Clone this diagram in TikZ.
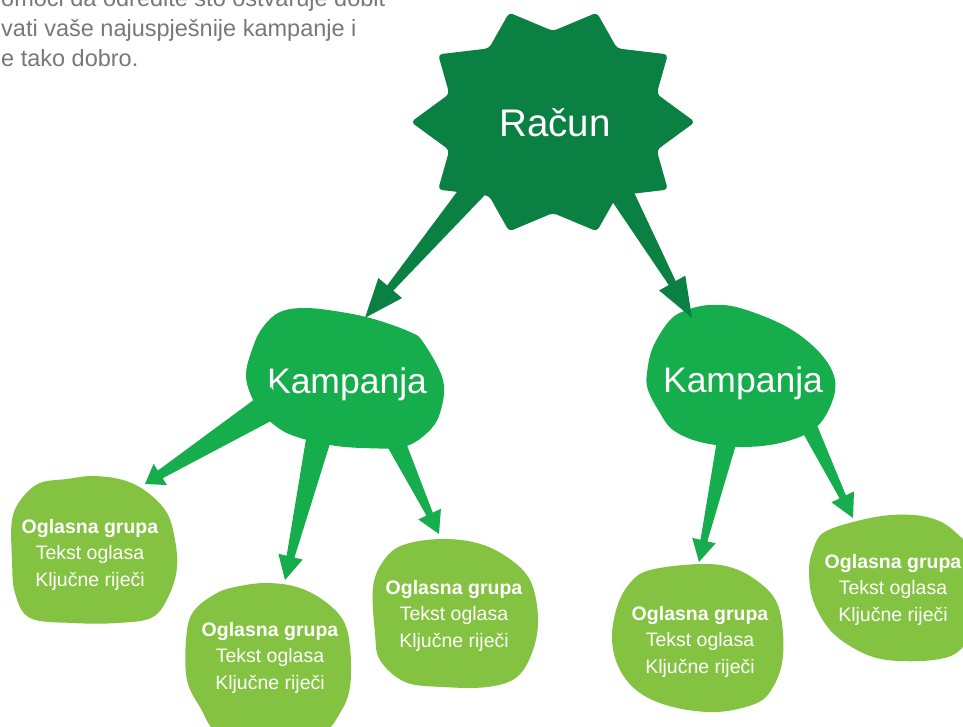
\documentclass[tikz,border=0pt]{standalone}
\usepackage{fontspec}
\setmainfont{Liberation Sans}
\usetikzlibrary{calc}
\definecolor{stargreen}{HTML}{0B8043}
\definecolor{campgreen}{HTML}{16AD4C}
\definecolor{adgreen}{HTML}{84C341}
\definecolor{notegray}{HTML}{77787B}
% #1 colour, #2 start, #3 tip, #4 base half-width, #5 neck half-width, #6 head half-width, #7 head length
\newcommand\fatarrow[7]{%
  \path (#3) coordinate (fa-t) (#2) coordinate (fa-s);
  \path ($(fa-t)!#7!(fa-s)$) coordinate (fa-h);
  \fill[#1] ($(fa-s)!#4!90:(fa-t)$) -- ($(fa-h)!#5!-90:(fa-s)$) -- ($(fa-h)!#6!-90:(fa-s)$)
    -- (fa-t) -- ($(fa-h)!#6!90:(fa-s)$) -- ($(fa-h)!#5!90:(fa-s)$)
    -- ($(fa-s)!#4!-90:(fa-t)$) -- cycle;}
\newcommand\adgroup[3]{%
  \node[adhead] (#1) at (#2,#3) {Oglasna grupa};
  \node[adline] (#1-t) at (#2,#3+26.5) {Tekst oglasa};
  \node[adline] (#1-k) at (#2,#3+53) {Ključne riječi};}
\tikzset{
  bigtext/.style={text=white, inner sep=0pt, anchor=base, font=\fontsize{38.5}{46}\selectfont},
  camptext/.style={text=white, inner sep=0pt, anchor=base, font=\fontsize{35.5}{42}\selectfont},
  adhead/.style={text=white, inner sep=0pt, anchor=base, font=\fontsize{19.5}{23}\selectfont\bfseries},
  adline/.style={text=white, inner sep=0pt, anchor=base, font=\fontsize{19.5}{23}\selectfont},
  note/.style={text=notegray, inner sep=0pt, anchor=base west, font=\fontsize{23.5}{28}\selectfont},
  blob/.style={smooth cycle, tension=0.6},
}
\begin{document}
\begin{tikzpicture}[x=1pt,y=-1pt]
\useasboundingbox (0,0) rectangle (963,726);
\clip (0,0) rectangle (963,726);
\fill[white] (0,0) rectangle (963,726);

% star
\fill[stargreen, rounded corners=4pt, shift={(553,122)}] (-18:109pt and 91pt)
  \foreach \i in {0,...,8} { -- (\i*36:142pt and 115pt) -- (\i*36+18:109pt and 91pt) }
  -- (324:142pt and 115pt) -- cycle;

% campaign blobs
\fill[campgreen] plot[blob] coordinates {(280,312) (307,308) (347,313) (377,320) (410,332) (423,342)
  (443,380) (440,413) (427,433) (403,447) (363,448) (330,445) (297,437) (277,427) (257,407)
  (246,377) (253,347) (263,327)};
\fill[campgreen] plot[blob] coordinates {(710,305) (740,308) (787,327) (820,353) (835,380) (830,407)
  (813,430) (780,443) (740,447) (700,442) (673,430) (660,413) (648,390) (647,373) (653,347)
  (670,320) (687,310)};

% ad group blobs
\fill[adgreen] plot[blob] coordinates {(40,483) (67,479) (93,476) (123,480) (147,492) (167,513)
  (175,540) (177,567) (170,593) (153,617) (117,623) (73,623) (30,618) (15,593) (12,560)
  (12,520) (22,498)};
\fill[adgreen] plot[blob] coordinates {(267,583) (297,587) (323,600) (343,620) (350,647) (350,687)
  (340,713) (320,735) (270,745) (220,735) (200,707) (187,680) (186,640) (193,612) (217,593)
  (240,586)};
\fill[adgreen] plot[blob] coordinates {(403,545) (440,539) (477,543) (507,557) (530,580) (538,617)
  (533,650) (517,677) (487,687) (443,687) (405,682) (380,660) (375,633) (373,587) (384,560)};
\fill[adgreen] plot[blob] coordinates {(650,570) (700,564) (733,568) (760,583) (777,603) (783,633)
  (782,663) (773,687) (757,703) (717,712) (673,707) (640,693) (620,670) (612,640) (617,607)
  (630,583)};
\fill[adgreen] plot[blob] coordinates {(823,533) (853,522) (891,515) (927,517) (953,530) (975,560)
  (975,620) (960,650) (933,660) (887,660) (857,650) (830,630) (813,600) (809,570) (813,550)};

% texts
\node[note] (n1) at (1,6) {omoći da odredite što ostvaruje dobit};
\node[note] (n2) at (1,36) {vati vaše najuspješnije kampanje i};
\node[note] (n3) at (1,66) {e tako dobro.};
\node[bigtext] (racun) at (555,136) {Račun};
\node[camptext] (k1) at (347,393) {Kampanja};
\node[camptext] (k2) at (743,392) {Kampanja};
\adgroup{a1}{90}{533}
\adgroup{a2}{270}{636}
\adgroup{a3}{454}{594}
\adgroup{a4}{700}{620}
\adgroup{a5}{893}{568}

% connectors
\fatarrow{stargreen}{$(racun)+(-65,48)$}{$(k1)+(18,-66)$}{13.5pt}{4pt}{15.5pt}{39pt}
\fatarrow{stargreen}{$(racun)+(57,55)$}{$(k2)+(-51,-65)$}{13.5pt}{4pt}{15pt}{40pt}
\fatarrow{campgreen}{$(k1)+(-68,16)$}{$(a1)+(55,-44)$}{15pt}{4.5pt}{12.5pt}{18pt}
\fatarrow{campgreen}{$(k1)+(-23,32)$}{$(a2)+(15,-51)$}{14pt}{4pt}{12.5pt}{24pt}
\fatarrow{campgreen}{$(k1)+(40,40)$}{$(a3)+(-15,-55)$}{11pt}{3.5pt}{12.5pt}{22pt}
\fatarrow{campgreen}{$(k2)+(-12,40)$}{$(a4)+(-1,-53)$}{11pt}{3.5pt}{12pt}{22pt}
\fatarrow{campgreen}{$(k2)+(60,32)$}{$(a5)+(-40,-45)$}{9pt}{3.5pt}{12.5pt}{23.5pt}
\end{tikzpicture}
\end{document}
